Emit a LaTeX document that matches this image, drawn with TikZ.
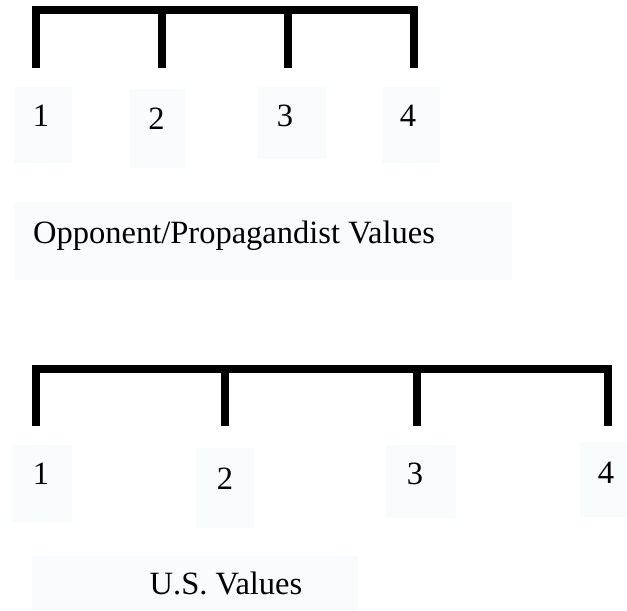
\documentclass[tikz,border=0pt]{standalone}
\usepackage{fontspec}
\setmainfont{Liberation Serif}
\definecolor{boxbg}{RGB}{248,252,252}
\begin{document}
\begin{tikzpicture}[x=1bp,y=-1bp,
  bar/.style={line width=8bp,line join=miter,line cap=butt},
  pale/.style={fill=boxbg},
  num/.style={inner sep=0pt,font=\fontsize{32.5bp}{36bp}\selectfont},
  lbl/.style={inner sep=0pt,anchor=base west,font=\fontsize{32.5bp}{36bp}\selectfont}]
\useasboundingbox[fill=white] (0,0) rectangle (627,611);
% ---------- top scale ----------
\fill[pale] (14,87) rectangle (72,163);
\fill[pale] (130,89) rectangle (186,168);
\fill[pale] (258,87) rectangle (326,159);
\fill[pale] (382,87) rectangle (440,163);
\fill[pale] (14,202) rectangle (512,280);
\coordinate (a1) at (36,68);
\coordinate (a2) at (162,68);
\coordinate (a3) at (288,68);
\coordinate (a4) at (414,68);
\coordinate (t1) at (36,10);
\coordinate (t2) at (162,10);
\coordinate (t3) at (288,10);
\coordinate (t4) at (414,10);
\draw[bar] (a1) -- (t1) -- (t4) -- (a4);
\draw[bar] (a2) -- (t2);
\draw[bar] (a3) -- (t3);
\node[num] (n1) at (41,116) {1};
\node[num] (n2) at (156.5,119) {2};
\node[num] (n3) at (285,116) {3};
\node[num] (n4) at (408,116) {4};
\node[lbl] (opp) at (33,243) {Opponent/Propagandist Values};
% ---------- bottom scale ----------
\fill[pale] (12,445) rectangle (72,522);
\fill[pale] (196,448) rectangle (254,528);
\fill[pale] (386,445) rectangle (456,518);
\fill[pale] (580,442) rectangle (627,517);
\fill[pale] (32,556) rectangle (358,610);
\coordinate (b1) at (36,426);
\coordinate (b2) at (225,426);
\coordinate (b3) at (417,426);
\coordinate (b4) at (608,426);
\coordinate (u1) at (36,369);
\coordinate (u2) at (225,369);
\coordinate (u3) at (417,369);
\coordinate (u4) at (608,369);
\draw[bar] (b1) -- (u1) -- (u4) -- (b4);
\draw[bar] (b2) -- (u2);
\draw[bar] (b3) -- (u3);
\node[num] (m1) at (41,474) {1};
\node[num] (m2) at (225,479) {2};
\node[num] (m3) at (415,474) {3};
\node[num] (m4) at (606,472.5) {4};
\node[num] (us) at (226,583) {U.S. Values};
\end{tikzpicture}
\end{document}
